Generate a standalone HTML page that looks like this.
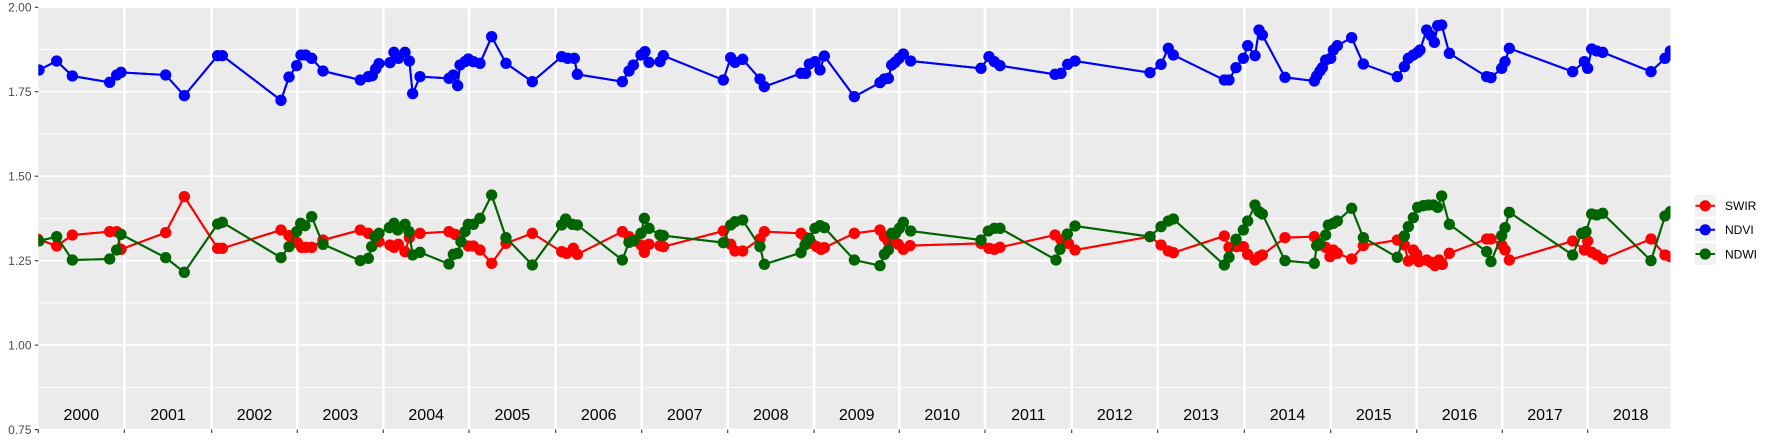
<!DOCTYPE html>
<html><head><meta charset="utf-8">
<style>
html,body{margin:0;padding:0;background:#fff;}
svg{display:block;font-family:"Liberation Sans",Arial,sans-serif;}
</style></head>
<body>
<svg width="1773" height="442" viewBox="0 0 1773 442" xmlns="http://www.w3.org/2000/svg">
<defs>
<clipPath id="pc"><rect x="38.3" y="7.3" width="1632.2" height="422.3"/></clipPath>
<marker id="mr" markerUnits="userSpaceOnUse" markerWidth="40" markerHeight="40" refX="20" refY="20" viewBox="0 0 40 40" overflow="visible"><circle cx="20" cy="20" r="17" fill="#FF0000"/></marker>
<marker id="mb" markerUnits="userSpaceOnUse" markerWidth="40" markerHeight="40" refX="20" refY="20" viewBox="0 0 40 40" overflow="visible"><circle cx="20" cy="20" r="17" fill="#0000FF"/></marker>
<marker id="mg" markerUnits="userSpaceOnUse" markerWidth="40" markerHeight="40" refX="20" refY="20" viewBox="0 0 40 40" overflow="visible"><circle cx="20" cy="20" r="17" fill="#006400"/></marker>
</defs>
<rect width="1773" height="442" fill="#fff"/>
<rect x="38.3" y="7.3" width="1632.2" height="422.3" fill="#EBEBEB"/>
<g stroke="#fff" fill="none">
<g stroke-width="0.9">
<line x1="38.3" x2="1670.5" y1="49.5" y2="49.5"/>
<line x1="38.3" x2="1670.5" y1="134.0" y2="134.0"/>
<line x1="38.3" x2="1670.5" y1="218.4" y2="218.4"/>
<line x1="38.3" x2="1670.5" y1="302.9" y2="302.9"/>
<line x1="38.3" x2="1670.5" y1="387.4" y2="387.4"/>
</g>
<g stroke-width="1.7">
<line x1="38.3" x2="1670.5" y1="7.3" y2="7.3"/>
<line x1="38.3" x2="1670.5" y1="91.7" y2="91.7"/>
<line x1="38.3" x2="1670.5" y1="176.2" y2="176.2"/>
<line x1="38.3" x2="1670.5" y1="260.7" y2="260.7"/>
<line x1="38.3" x2="1670.5" y1="345.1" y2="345.1"/>
<line x1="38.3" x2="1670.5" y1="429.6" y2="429.6"/>
</g>
<g stroke-width="2.7">
<line y1="7.3" y2="429.6" x1="124.3" x2="124.3"/>
<line y1="7.3" y2="429.6" x1="211.7" x2="211.7"/>
<line y1="7.3" y2="429.6" x1="297.3" x2="297.3"/>
<line y1="7.3" y2="429.6" x1="383.3" x2="383.3"/>
<line y1="7.3" y2="429.6" x1="469" x2="469"/>
<line y1="7.3" y2="429.6" x1="555.7" x2="555.7"/>
<line y1="7.3" y2="429.6" x1="641.7" x2="641.7"/>
<line y1="7.3" y2="429.6" x1="727.7" x2="727.7"/>
<line y1="7.3" y2="429.6" x1="814" x2="814"/>
<line y1="7.3" y2="429.6" x1="899.3" x2="899.3"/>
<line y1="7.3" y2="429.6" x1="985" x2="985"/>
<line y1="7.3" y2="429.6" x1="1071.7" x2="1071.7"/>
<line y1="7.3" y2="429.6" x1="1157.7" x2="1157.7"/>
<line y1="7.3" y2="429.6" x1="1244.3" x2="1244.3"/>
<line y1="7.3" y2="429.6" x1="1330.7" x2="1330.7"/>
<line y1="7.3" y2="429.6" x1="1416.7" x2="1416.7"/>
<line y1="7.3" y2="429.6" x1="1502.3" x2="1502.3"/>
<line y1="7.3" y2="429.6" x1="1587.7" x2="1587.7"/>
</g>
</g>

<g clip-path="url(#pc)">
<g transform="translate(35 15) scale(0.3333333)" fill="none" stroke-linejoin="round">
<polyline id="r" stroke="#FF0000" stroke-width="6" points="8,672 65,693 112,660 224,650 245,650 258,703 392,653 448,545 548,700 562,700 738,645 762,662 787,683 800,697 812,697 830,697 864,675 976,645 1000,655 1032,680 1065,690 1077,697 1090,688 1110,710 1123,668 1155,655 1242,650 1260,658 1278,680 1300,693 1315,693 1335,705 1370,745 1413,685 1492,655 1580,710 1595,715 1615,700 1627,718 1762,650 1782,665 1800,675 1818,690 1828,712 1842,688 1875,692 1885,695 2065,648 2087,688 2100,708 2123,708 2175,672 2188,650 2298,655 2312,668 2330,685 2345,695 2358,703 2368,698 2458,655 2535,645 2548,665 2560,680 2578,680 2590,688 2605,703 2625,692 2838,685 2862,700 2878,703 2895,697 3060,660 3078,675 3100,685 3120,705 3345,665 3378,690 3400,708 3415,713 3568,663 3582,697 3605,695 3625,695 3638,718 3660,735 3672,725 3682,720 3750,668 3838,665 3855,690 3872,697 3885,725 3895,705 3907,715 3950,732 3985,692 4087,675 4108,690 4120,738 4135,705 4145,718 4152,740 4175,735 4188,742 4200,752 4212,735 4222,748 4243,715 4355,672 4368,672 4400,690 4410,705 4423,735 4613,678 4648,705 4658,678 4670,712 4685,720 4703,732 4848,672 4890,720 4906,725"/>
<polyline id="b" stroke="#0000FF" stroke-width="6" points="12,165 65,138 112,183 224,202 245,180 258,172 392,180 448,242 548,122 562,122 738,256 762,186 785,152 798,120 812,120 830,130 864,168 976,195 1000,185 1012,182 1022,162 1032,146 1065,143 1077,112 1090,130 1110,112 1123,138 1133,236 1155,185 1242,190 1255,180 1268,212 1275,150 1290,140 1300,132 1315,140 1335,145 1370,65 1413,145 1492,200 1580,125 1598,130 1618,130 1627,178 1762,200 1782,168 1795,150 1818,120 1830,110 1842,142 1875,140 1885,122 2065,195 2087,128 2100,142 2123,133 2175,192 2188,215 2298,175 2312,175 2323,147 2340,140 2355,165 2368,123 2458,245 2535,203 2548,192 2560,190 2570,150 2580,142 2592,130 2605,117 2627,138 2838,160 2862,125 2878,140 2895,152 3060,178 3078,175 3098,148 3120,138 3345,173 3378,148 3400,100 3415,120 3568,195 3582,195 3603,158 3625,130 3638,92 3660,122 3672,45 3682,60 3750,187 3838,198 3845,183 3855,168 3862,158 3872,135 3887,130 3895,105 3907,92 3950,68 3985,147 4087,185 4108,155 4120,130 4135,120 4148,112 4155,105 4175,45 4188,62 4198,82 4208,32 4220,30 4243,115 4355,185 4368,188 4400,160 4410,140 4423,100 4613,170 4648,140 4658,160 4670,102 4685,108 4703,112 4848,170 4890,130 4906,108"/>
<polyline id="g" stroke="#006400" stroke-width="6" points="12,678 65,665 112,735 224,732 245,705 258,658 392,728 448,772 548,627 562,622 738,728 762,695 785,650 797,625 810,632 830,605 864,688 976,737 1000,730 1010,695 1020,665 1032,655 1063,638 1077,625 1088,645 1110,628 1122,650 1133,720 1155,712 1242,747 1255,718 1268,715 1278,680 1290,650 1300,628 1315,628 1335,610 1370,540 1413,668 1492,750 1580,630 1592,612 1612,628 1627,630 1762,735 1782,682 1795,678 1818,655 1828,610 1842,640 1875,660 1885,662 2065,683 2087,630 2100,620 2123,615 2175,695 2188,748 2298,713 2310,690 2323,670 2340,640 2355,632 2368,638 2458,735 2535,752 2548,718 2560,705 2570,655 2582,655 2593,640 2605,622 2627,648 2838,675 2860,648 2878,640 2895,640 3063,735 3075,703 3097,657 3120,633 3345,665 3378,635 3400,618 3415,612 3568,750 3582,727 3603,673 3625,645 3638,618 3660,570 3672,590 3682,597 3750,737 3838,745 3845,692 3855,685 3872,660 3880,630 3895,625 3907,618 3950,580 3985,668 4087,727 4108,663 4120,635 4135,608 4148,577 4165,572 4180,570 4195,570 4208,577 4220,543 4243,628 4355,710 4368,740 4400,662 4410,638 4423,592 4613,720 4640,655 4653,650 4670,597 4685,600 4703,595 4848,737 4890,603 4906,590"/>
<use href="#r" stroke="none" marker-start="url(#mr)" marker-mid="url(#mr)" marker-end="url(#mr)"/>
<use href="#b" stroke="none" marker-start="url(#mb)" marker-mid="url(#mb)" marker-end="url(#mb)"/>
<use href="#g" stroke="none" marker-start="url(#mg)" marker-mid="url(#mg)" marker-end="url(#mg)"/>
</g>
</g>

<g font-size="16" fill="#000" text-anchor="middle">
<text x="81.3" y="420">2000</text>
<text x="168" y="420">2001</text>
<text x="254.5" y="420">2002</text>
<text x="340.3" y="420">2003</text>
<text x="426.2" y="420">2004</text>
<text x="512.3" y="420">2005</text>
<text x="598.7" y="420">2006</text>
<text x="684.7" y="420">2007</text>
<text x="770.8" y="420">2008</text>
<text x="856.7" y="420">2009</text>
<text x="942.2" y="420">2010</text>
<text x="1028.3" y="420">2011</text>
<text x="1114.7" y="420">2012</text>
<text x="1201" y="420">2013</text>
<text x="1287.5" y="420">2014</text>
<text x="1373.7" y="420">2015</text>
<text x="1459.5" y="420">2016</text>
<text x="1545" y="420">2017</text>
<text x="1630.7" y="420">2018</text>
</g>

<g font-size="12" fill="#4D4D4D" text-anchor="end">
<text x="31.5" y="11.6">2.00</text>
<text x="31.5" y="96">1.75</text>
<text x="31.5" y="180.5">1.50</text>
<text x="31.5" y="265">1.25</text>
<text x="31.5" y="349.4">1.00</text>
<text x="31.5" y="433.9">0.75</text>
</g>
<g stroke="#333" stroke-width="1.1">
<line x1="34.8" x2="38.3" y1="7.3" y2="7.3"/>
<line x1="34.8" x2="38.3" y1="91.7" y2="91.7"/>
<line x1="34.8" x2="38.3" y1="176.2" y2="176.2"/>
<line x1="34.8" x2="38.3" y1="260.7" y2="260.7"/>
<line x1="34.8" x2="38.3" y1="345.1" y2="345.1"/>
<line x1="34.8" x2="38.3" y1="429.6" y2="429.6"/>
<line y1="429.6" y2="433" x1="38.3" x2="38.3"/>
<line y1="429.6" y2="433" x1="124.3" x2="124.3"/>
<line y1="429.6" y2="433" x1="211.7" x2="211.7"/>
<line y1="429.6" y2="433" x1="297.3" x2="297.3"/>
<line y1="429.6" y2="433" x1="383.3" x2="383.3"/>
<line y1="429.6" y2="433" x1="469" x2="469"/>
<line y1="429.6" y2="433" x1="555.7" x2="555.7"/>
<line y1="429.6" y2="433" x1="641.7" x2="641.7"/>
<line y1="429.6" y2="433" x1="727.7" x2="727.7"/>
<line y1="429.6" y2="433" x1="814" x2="814"/>
<line y1="429.6" y2="433" x1="899.3" x2="899.3"/>
<line y1="429.6" y2="433" x1="985" x2="985"/>
<line y1="429.6" y2="433" x1="1071.7" x2="1071.7"/>
<line y1="429.6" y2="433" x1="1157.7" x2="1157.7"/>
<line y1="429.6" y2="433" x1="1244.3" x2="1244.3"/>
<line y1="429.6" y2="433" x1="1330.7" x2="1330.7"/>
<line y1="429.6" y2="433" x1="1416.7" x2="1416.7"/>
<line y1="429.6" y2="433" x1="1502.3" x2="1502.3"/>
<line y1="429.6" y2="433" x1="1587.7" x2="1587.7"/>
</g>

<g>
<rect x="1694.3" y="195" width="21.7" height="21.7" fill="#F2F2F2"/>
<rect x="1694.3" y="219" width="21.7" height="21.7" fill="#F2F2F2"/>
<rect x="1694.3" y="243.2" width="21.7" height="21.7" fill="#F2F2F2"/>
<line x1="1695.5" x2="1715" y1="205.8" y2="205.8" stroke="#FF0000" stroke-width="2"/>
<line x1="1695.5" x2="1715" y1="229.8" y2="229.8" stroke="#0000FF" stroke-width="2"/>
<line x1="1695.5" x2="1715" y1="254" y2="254" stroke="#006400" stroke-width="2"/>
<circle cx="1705.2" cy="205.8" r="5.6" fill="#FF0000"/>
<circle cx="1705.2" cy="229.8" r="5.6" fill="#0000FF"/>
<circle cx="1705.2" cy="254" r="5.6" fill="#006400"/>
<g font-size="12" fill="#000">
<text x="1725" y="210.1">SWIR</text>
<text x="1725" y="234.1">NDVI</text>
<text x="1725" y="258.3">NDWI</text>
</g>
</g>
</svg>
</body></html>
